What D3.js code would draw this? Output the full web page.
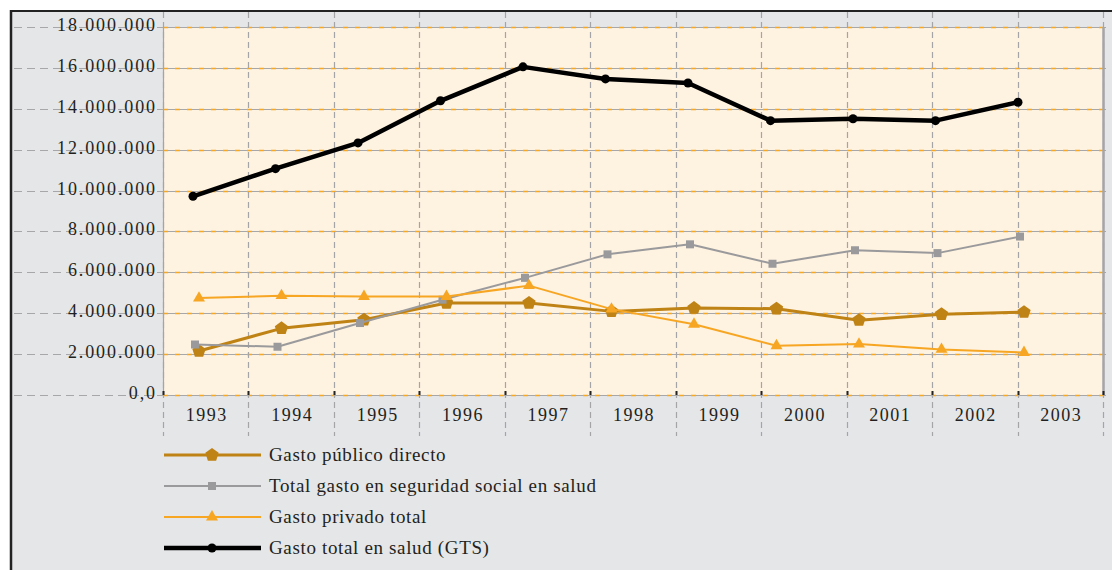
<!DOCTYPE html>
<html>
<head>
<meta charset="utf-8">
<script src="https://cdn.jsdelivr.net/npm/d3@7"></script>
<style>
  body { margin: 0; background: #fff; }
</style>
</head>
<body>
<svg id="chart" width="1112" height="570"></svg>
<script>
// chart data
const years = [1993, 1994, 1995, 1996, 1997, 1998, 1999, 2000, 2001, 2002, 2003];
const yTicks = [0, 2e6, 4e6, 6e6, 8e6, 10e6, 12e6, 14e6, 16e6, 18e6];

const gastoPublico   = [2.15e6, 3.26e6, 3.68e6, 4.50e6, 4.50e6, 4.09e6, 4.25e6, 4.22e6, 3.66e6, 3.95e6, 4.05e6];
const seguridadSocial = [2.47e6, 2.36e6, 3.52e6, 4.66e6, 5.73e6, 6.88e6, 7.37e6, 6.42e6, 7.08e6, 6.94e6, 7.75e6];
const gastoPrivado   = [4.74e6, 4.86e6, 4.82e6, 4.82e6, 5.35e6, 4.20e6, 3.46e6, 2.41e6, 2.49e6, 2.23e6, 2.08e6];
const gastoTotal     = [9.72e6, 11.07e6, 12.33e6, 14.39e6, 16.05e6, 15.46e6, 15.26e6, 13.42e6, 13.51e6, 13.42e6, 14.32e6];

const seriesNames = [
  "Gasto público directo",
  "Total gasto en seguridad social en salud",
  "Gasto privado total",
  "Gasto total en salud (GTS)"
];

const FONT = "'Liberation Serif'";

// how each series is drawn
const series = [
  { name: seriesNames[0], values: gastoPublico,    color: "#bf8215", width: 3,   marker: "pentagon", size: 7, dx: 3 },
  { name: seriesNames[1], values: seguridadSocial, color: "#9a9a9c", width: 2,   marker: "square",   size: 4, dx: -1 },
  { name: seriesNames[2], values: gastoPrivado,    color: "#f6a623", width: 2,   marker: "triangle", size: 6, dx: 3 },
  { name: seriesNames[3], values: gastoTotal,      color: "#000000", width: 4.5, marker: "circle",   size: 4.5, dx: -3 }
];

const svg = d3.select("#chart");
const plot = { left: 163, right: 1103, top: 27, bottom: 395 };

// band scale for the year columns, point scale for the markers
const xBand = d3.scaleBand().domain(years).range([plot.left, plot.right]).padding(0);
const xPoint = d3.scalePoint().domain(years).range([196, 1021]);
const y = d3.scaleLinear().domain([0, 18e6]).range([plot.bottom, plot.top]);

const fmt = v => v === 0 ? "0,0" : d3.format(",")(v).replace(/,/g, ".");

// background panel and frame
svg.append("rect").attr("x", 11).attr("y", 11).attr("width", 1101).attr("height", 559)
  .attr("fill", "#e5e6e8");
svg.append("rect").attr("x", plot.left).attr("y", plot.top)
  .attr("width", plot.right - plot.left).attr("height", plot.bottom - plot.top)
  .attr("fill", "#fef2e0");
svg.append("line").attr("x1", 10).attr("x2", 1112).attr("y1", 11).attr("y2", 11)
  .attr("stroke", "#222").attr("stroke-width", 2);
svg.append("line").attr("x1", 11).attr("x2", 11).attr("y1", 10).attr("y2", 570)
  .attr("stroke", "#222").attr("stroke-width", 2.5);

// horizontal grid
const hgrid = svg.append("g");
yTicks.forEach(t => {
  const yy = Math.round(y(t)) + 0.5;
  hgrid.append("line").attr("x1", 14).attr("x2", plot.left).attr("y1", yy).attr("y2", yy)
    .attr("stroke", "#a7a7aa").attr("stroke-width", 1.2).attr("stroke-dasharray", "8,5");
  hgrid.append("line").attr("x1", plot.left).attr("x2", 1106).attr("y1", yy).attr("y2", yy)
    .attr("stroke", "#a7a7aa").attr("stroke-width", 1.2);
  hgrid.append("line").attr("x1", plot.left).attr("x2", plot.right).attr("y1", yy).attr("y2", yy)
    .attr("stroke", "#f7a823").attr("stroke-width", 1.3).attr("stroke-dasharray", "5,7");
});

// vertical grid
const edges = years.map(d => xBand(d)).concat([plot.right]);
const vgrid = svg.append("g");
edges.forEach((x, i) => {
  const xx = Math.round(x) + 0.5;
  vgrid.append("line").attr("x1", xx).attr("x2", xx).attr("y1", 12).attr("y2", 436)
    .attr("stroke", "#a5a5a8").attr("stroke-width", 1.2).attr("stroke-dasharray", "6,4");
  if (i === 0 || i === edges.length - 1) {
    vgrid.append("line").attr("x1", xx).attr("x2", xx).attr("y1", plot.top).attr("y2", plot.bottom)
      .attr("stroke", "#a5a5a8").attr("stroke-width", i === 0 ? 1.2 : 2.5);
  }
  vgrid.append("line").attr("x1", xx).attr("x2", xx).attr("y1", plot.bottom - 4).attr("y2", plot.bottom)
    .attr("stroke", "#222").attr("stroke-width", 2);
});

// y labels
svg.append("g").selectAll("text").data(yTicks).join("text")
  .attr("x", 157).attr("y", d => y(d) + 4)
  .attr("text-anchor", "end")
  .attr("font-family", FONT).attr("fill", "#231f20")
  .attr("font-size", 18).attr("letter-spacing", 1.9)
  .text(fmt);

// x labels
svg.append("g").selectAll("text").data(years).join("text")
  .attr("x", d => xBand(d) + xBand.bandwidth() / 2 + 1).attr("y", 421)
  .attr("text-anchor", "middle")
  .attr("font-family", FONT).attr("fill", "#231f20")
  .attr("font-size", 18).attr("letter-spacing", 1.5)
  .text(d => d);

// marker symbols
const pentagon = {
  draw(ctx, size) {
    const r = Math.sqrt(size / 2.38);
    for (let i = 0; i < 5; i++) {
      const a = -Math.PI / 2 + i * 2 * Math.PI / 5;
      const px = r * Math.cos(a), py = r * Math.sin(a);
      if (i === 0) ctx.moveTo(px, py); else ctx.lineTo(px, py);
    }
    ctx.closePath();
  }
};
function symbolFor(s) {
  if (s.marker === "pentagon") return d3.symbol(pentagon, 2.38 * s.size * s.size);
  if (s.marker === "square") return d3.symbol(d3.symbolSquare, 4 * s.size * s.size);
  if (s.marker === "triangle") return d3.symbol(d3.symbolTriangle, 0.43 * 4 * s.size * s.size);
  return d3.symbol(d3.symbolCircle, Math.PI * s.size * s.size);
}

// series lines and markers
series.forEach(s => {
  const g = svg.append("g");
  const line = d3.line().x((d, i) => xPoint(years[i]) + s.dx).y(d => y(d));
  g.append("path").datum(s.values).attr("d", line)
    .attr("fill", "none").attr("stroke", s.color).attr("stroke-width", s.width)
    .attr("stroke-linejoin", "round");
  g.selectAll("path.m").data(s.values).join("path").attr("class", "m")
    .attr("transform", (d, i) => `translate(${xPoint(years[i]) + s.dx},${y(d)})`)
    .attr("d", symbolFor(s)())
    .attr("fill", s.color);
});

// legend
const legend = svg.append("g");
const legendY = [455, 486, 517, 548];
series.forEach((s, i) => {
  const g = legend.append("g").attr("transform", `translate(0,${legendY[i]})`);
  g.append("line").attr("x1", 164).attr("x2", 261).attr("y1", 0).attr("y2", 0)
    .attr("stroke", s.color).attr("stroke-width", s.width);
  g.append("path").attr("transform", "translate(212,0)")
    .attr("d", symbolFor(s)()).attr("fill", s.color);
  g.append("text").attr("x", 269).attr("y", 6)
    .attr("font-family", FONT).attr("fill", "#231f20")
    .attr("font-size", 19).attr("letter-spacing", 0.65)
    .text(s.name);
});
</script>
</body>
</html>
